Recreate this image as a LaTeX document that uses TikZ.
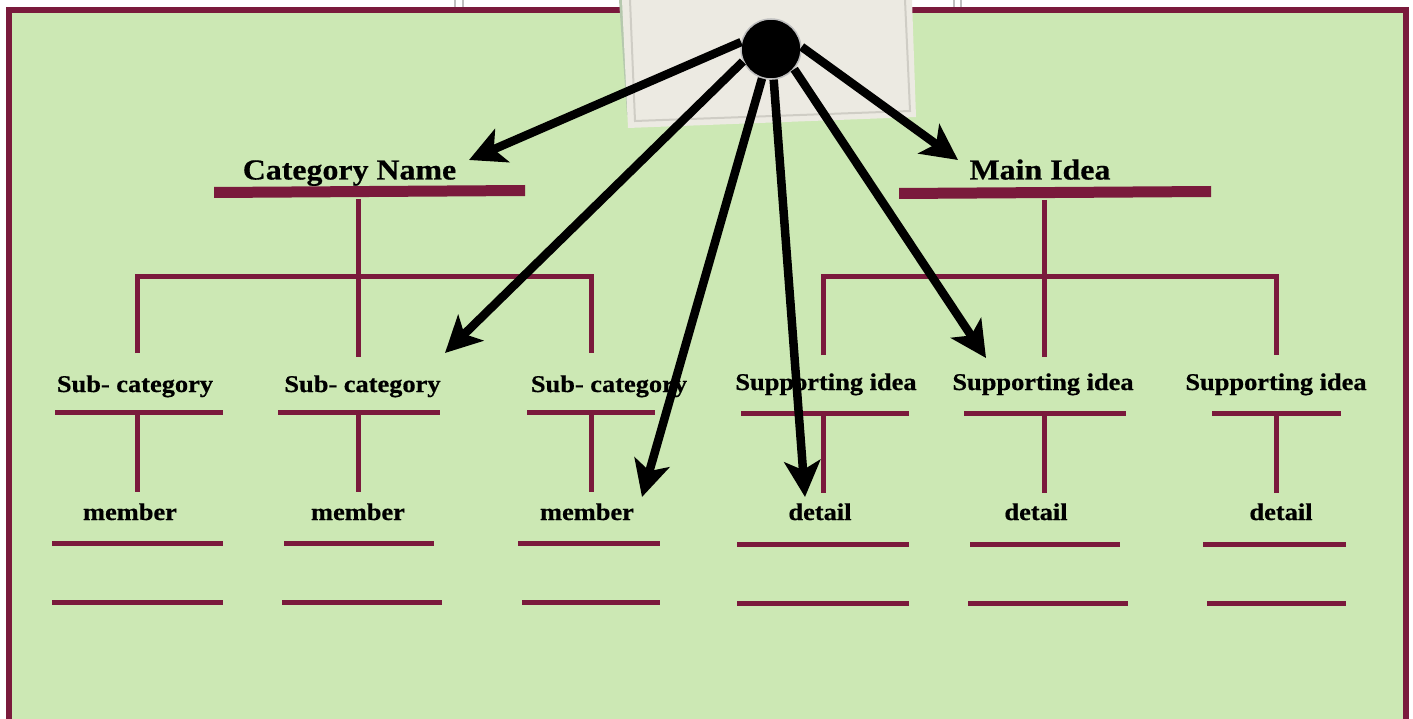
\documentclass[tikz,border=0pt]{standalone}
\usepackage{fontspec}
\setmainfont{Liberation Serif}[FakeStretch=1.1,BoldFeatures={FakeBold=0.6}]
\usetikzlibrary{arrows.meta}
\definecolor{maroon}{HTML}{7A1A3C}
\definecolor{leaf}{HTML}{CCE8B4}
\definecolor{paper}{HTML}{ECEAE2}
\definecolor{papershadow}{HTML}{B5C8AD}
\definecolor{paperline}{HTML}{CFCDC5}
\tikzset{
  x=1pt,y=-1pt,
  rule/.style={draw=maroon,line width=5pt},
  headbar/.style={fill=maroon,draw=none},
  stem/.style={draw=maroon,line width=5pt},
  bighead/.style={font=\bfseries\fontsize{29}{32}\selectfont,anchor=base,inner sep=0pt,text=black},
  subhead/.style={font=\bfseries\fontsize{24}{28}\selectfont,anchor=base,inner sep=0pt,text=black},
  spoke/.style={draw=black,line width=8.5pt,-{Stealth[length=36pt,width=36pt,inset=9pt]}},
  hub/.style={circle,fill=black,draw=black!25,line width=1.5pt,minimum size=60pt,inner sep=0pt},
  edge mark/.style={draw=black!25,line width=2.5pt}
}
\begin{document}
\begin{tikzpicture}
\useasboundingbox (0,0) rectangle (1413,719);
\fill[white] (0,0) rectangle (1413,719);
% page edges behind the panel
\foreach \px in {455,463,954,961} \draw[edge mark] (\px,0) -- (\px,9);
% panel
\fill[leaf] (7,10) rectangle (1407,719);
\draw[maroon,line width=5.6pt] (9,725) -- (9,10) -- (1406,10) -- (1406,725);
% paper card
\fill[papershadow] (619,0) -- (627,115) -- (632,115) -- (625,0) -- cycle;
\fill[paper] (622,0) -- (628,128) -- (916,117) -- (912,0) -- cycle;
\draw[paperline,line width=2pt] (630,0) -- (635,121) -- (910,111) -- (905,0);

% tree coordinates, left
\coordinate (lroot) at (358.5,199);
\coordinate (lfork) at (358.5,277);
\coordinate (lm) at (358.5,357);
\coordinate (la) at (137,277);
\coordinate (lae) at (137,353);
\coordinate (lc) at (591,277);
\coordinate (lce) at (591,353);
\coordinate (la1) at (137,415); \coordinate (la2) at (137,492);
\coordinate (lb1) at (358.5,415); \coordinate (lb2) at (358.5,492);
\coordinate (lc1) at (591,415); \coordinate (lc2) at (591,492);
% tree coordinates, right
\coordinate (rroot) at (1044,200);
\coordinate (rfork) at (1044,277);
\coordinate (rm) at (1044,357);
\coordinate (ra) at (823,277);
\coordinate (rae) at (823,355);
\coordinate (rc) at (1276,277);
\coordinate (rce) at (1276,355);
\coordinate (ra1) at (823,416); \coordinate (ra2) at (823,493);
\coordinate (rb1) at (1044,416); \coordinate (rb2) at (1044,493);
\coordinate (rc1) at (1276,416); \coordinate (rc2) at (1276,493);

% heavy bars
\fill[headbar] (214,187) -- (525,185) -- (525,196) -- (214,198) -- cycle;
\fill[headbar] (899,188) -- (1211,186) -- (1211,197) -- (899,199) -- cycle;

% stems and brackets
\draw[stem] (lroot) -- (lm);
\draw[stem] (lae) -- (la) -- (lc) -- (lce);
\draw[stem] (rroot) -- (rm);
\draw[stem] (rae) -- (ra) -- (rc) -- (rce);
\foreach \p/\q in {la1/la2,lb1/lb2,lc1/lc2,ra1/ra2,rb1/rb2,rc1/rc2} \draw[stem] (\p) -- (\q);

% rules
\foreach \xa/\xb/\yy in {55/223/412,278/440/412.5,527/655/412.5,
  741/909/413,964/1126/413.5,1212/1341/413.5,
  52/223/543.5,284/434/543.5,518/660/543.5,
  737/909/544.5,970/1120/544.5,1203/1346/544.5,
  52/223/602,282/442/602,522/660/602,
  737/909/603,968/1128/603,1207/1346/603}
  \draw[rule] (\xa,\yy) -- (\xb,\yy);

% labels
\node[bighead] (cat) at (349.5,179.5) {Category Name};
\node[bighead] (main) at (1040,179.5) {Main Idea};
\node[subhead] (s1) at (135,392) {Sub- category};
\node[subhead] (s2) at (362.5,392) {Sub- category};
\node[subhead] (s3) at (609,392) {Sub- category};
\node[subhead] (t1) at (826,390) {Supporting idea};
\node[subhead] (t2) at (1043,390) {Supporting idea};
\node[subhead] (t3) at (1276,390) {Supporting idea};
\node[subhead] (m1) at (130,520) {member};
\node[subhead] (m2) at (358,520) {member};
\node[subhead] (m3) at (587,520) {member};
\node[subhead] (d1) at (820,520) {detail};
\node[subhead] (d2) at (1036,520) {detail};
\node[subhead] (d3) at (1281,520) {detail};

% hub and spokes
\node[hub] (hub) at (771,49) {};
\coordinate (e1) at (469,160);
\coordinate (e2) at (445,353);
\coordinate (e3) at (642,497);
\coordinate (e4) at (805,497);
\coordinate (e5) at (986,358);
\coordinate (e6) at (958,160);
\draw[spoke] (hub.167) -- (e1);
\draw[spoke] (hub.204) -- (e2);
\draw[spoke] (hub.253) -- (e3);
\draw[spoke] (hub.275) -- (e4);
\draw[spoke] (hub.319) -- (e5);
\draw[spoke] (hub.4) -- (e6);
\end{tikzpicture}
\end{document}
